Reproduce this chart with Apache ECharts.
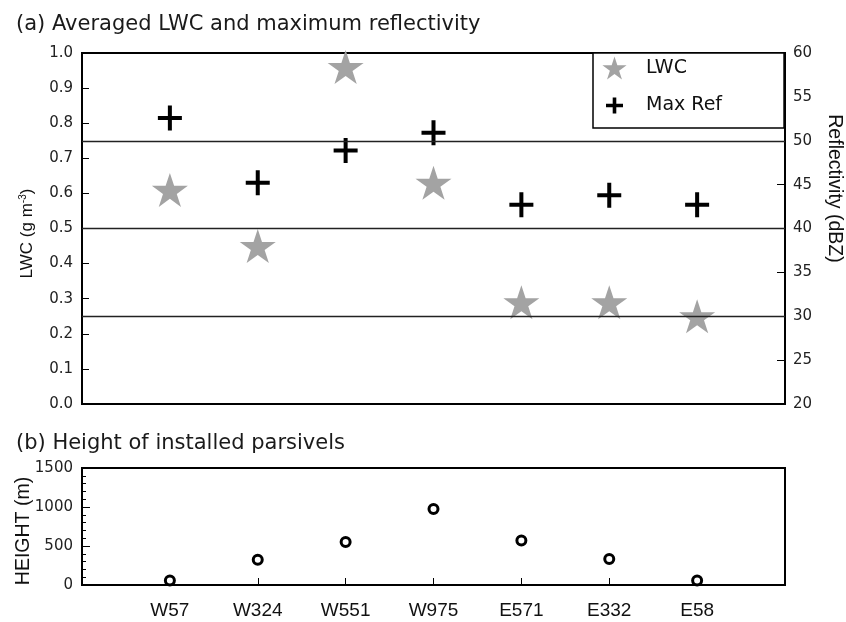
<!DOCTYPE html>
<html>
<head>
<meta charset="utf-8">
<script src="https://cdn.jsdelivr.net/npm/echarts@6/dist/echarts.min.js"></script>
<style>html,body{margin:0;padding:0;background:#fff;}#c{width:846px;height:622px;}</style>
</head>
<body>
<div id="c"></div>
<script>
const stations = ['W57', 'W324', 'W551', 'W975', 'E571', 'E332', 'E58'];
const lwc = [0.61, 0.45, 0.96, 0.63, 0.29, 0.29, 0.25];
const maxRef = [52.6, 45.2, 48.9, 50.9, 42.7, 43.8, 42.7];
const heights = [57, 324, 551, 975, 571, 332, 58];
const refLines = [30, 40, 50];

const STAR = 'path://M50,0 L61.2,34.5 L97.6,34.5 L68.2,55.9 L79.4,90.5 L50,69.1 L20.6,90.5 L31.8,55.9 L2.4,34.5 L38.8,34.5 Z';
const CROSS = 'path://M10,0 L14,0 L14,10.5 L24,10.5 L24,14.5 L14,14.5 L14,25 L10,25 L10,14.5 L0,14.5 L0,10.5 L10,10.5 Z';
const CROSS_LEG = 'path://M0,0 M25,23 M10.7,3.5 L14.3,3.5 L14.3,9.7 L21,9.7 L21,13.3 L14.3,13.3 L14.3,19.5 L10.7,19.5 L10.7,13.3 L4,13.3 L4,9.7 L10.7,9.7 Z';

const pts = arr => arr.map((v, i) => [i + 1, v]);
const tickFont = {fontFamily: 'DejaVu Sans', fontSize: 15, color: '#222'};
const axisLine = {show: true, onZero: false, lineStyle: {color: '#000', width: 2}};

const chart = echarts.init(document.getElementById('c'));
chart.setOption({
  animation: false,
  backgroundColor: '#fff',
  title: [
    {text: '(a) Averaged LWC and maximum reflectivity', left: 11, top: 9,
     textStyle: {fontFamily: 'DejaVu Sans', fontSize: 21, fontWeight: 'normal', color: '#1a1a1a'}},
    {text: '(b) Height of installed parsivels', left: 11, top: 428,
     textStyle: {fontFamily: 'DejaVu Sans', fontSize: 21, fontWeight: 'normal', color: '#1a1a1a'}}
  ],
  legend: {
    left: 593, top: 53, orient: 'vertical',
    selectedMode: false,
    itemWidth: 25, itemHeight: 23, itemGap: 14.5,
    padding: [3.5, 62, 11, 9],
    borderColor: '#000', borderWidth: 1.5, backgroundColor: '#fff',
    textStyle: {fontFamily: 'DejaVu Sans', fontSize: 19, color: '#111', padding: [0, 0, 0, 14]},
    data: [
      {name: 'LWC', icon: STAR, itemStyle: {color: '#a3a3a3'}},
      {name: 'Max Ref', icon: CROSS_LEG, itemStyle: {color: '#000'}}
    ]
  },
  grid: [
    {left: 82, right: 61, top: 53, height: 351, containLabel: false, outerBoundsMode: 'none',
     show: true, borderColor: '#000', borderWidth: 2, backgroundColor: 'transparent'},
    {left: 82, right: 61, top: 468, height: 117, containLabel: false, outerBoundsMode: 'none',
     show: true, borderColor: '#000', borderWidth: 2, backgroundColor: 'transparent'}
  ],
  xAxis: [
    {type: 'value', gridIndex: 0, min: 0, max: 8, interval: 1,
     axisLine: axisLine, axisTick: {show: false}, axisLabel: {show: false}, splitLine: {show: false}},
    {type: 'value', gridIndex: 1, min: 0, max: 8, interval: 1,
     axisLine: axisLine,
     axisTick: {show: true, inside: true, length: 7, lineStyle: {color: '#000', width: 1}},
     axisLabel: {margin: 16, fontFamily: 'Liberation Sans', fontSize: 19, color: '#111',
       formatter: v => stations[v - 1] || ''},
     splitLine: {show: false}}
  ],
  yAxis: [
    {type: 'value', gridIndex: 0, min: 0, max: 1, interval: 0.1, position: 'left',
     axisLine: axisLine,
     axisTick: {show: true, inside: true, length: 7, lineStyle: {color: '#000', width: 1}},
     axisLabel: Object.assign({margin: 9, formatter: v => v.toFixed(1)}, tickFont),
     splitLine: {show: false},
     name: '{n|LWC (g m}{s|-3}{n|)}', nameLocation: 'middle', nameRotate: 90, nameGap: 45,
     nameMoveOverlap: false,
     nameTextStyle: {padding: [0, 10, 0, 0], rich: {
       n: {fontFamily: 'Liberation Sans', fontSize: 17, color: '#111'},
       s: {fontFamily: 'Liberation Sans', fontSize: 10, color: '#111', padding: [0, 0, 9, 0]}
     }}},
    {type: 'value', gridIndex: 0, min: 20, max: 60, interval: 5, position: 'right',
     axisLine: axisLine,
     axisTick: {show: true, inside: true, length: 8, lineStyle: {color: '#000', width: 1}},
     axisLabel: Object.assign({margin: 8}, tickFont),
     splitLine: {show: false},
     name: 'Reflectivity (dBZ)', nameLocation: 'middle', nameRotate: -90, nameGap: 39,
     nameMoveOverlap: false,
     nameTextStyle: {fontFamily: 'Liberation Sans', fontSize: 19.5, color: '#111', padding: [0, 80, 0, 0]}},
    {type: 'value', gridIndex: 1, min: 0, max: 1500, interval: 500, position: 'left',
     axisLine: axisLine,
     axisTick: {show: true, inside: true, length: 8, lineStyle: {color: '#000', width: 1}},
     minorTick: {show: true, splitNumber: 5, length: 4, lineStyle: {color: '#000', width: 1}},
     axisLabel: Object.assign({margin: 9, formatter: v => String(v)}, tickFont),
     splitLine: {show: false},
     name: 'HEIGHT (m)', nameLocation: 'middle', nameRotate: 90, nameGap: 48,
     nameMoveOverlap: false,
     nameTextStyle: {fontFamily: 'Liberation Sans', fontSize: 19.5, color: '#111', padding: [0, 9, 0, 0]}}
  ],
  series: [
    {name: 'LWC', type: 'scatter', xAxisIndex: 0, yAxisIndex: 0,
     symbol: STAR, symbolSize: [36, 34], itemStyle: {color: '#a3a3a3', opacity: 1},
     data: pts(lwc), z: 3},
    {name: 'Max Ref', type: 'scatter', xAxisIndex: 0, yAxisIndex: 1,
     symbol: CROSS, symbolSize: [24, 25], itemStyle: {color: '#000', opacity: 1},
     data: pts(maxRef), z: 4,
     markLine: {silent: true, symbol: 'none', label: {show: false},
       lineStyle: {color: '#222', width: 1.3, type: 'solid'},
       data: refLines.map(v => ({yAxis: v}))}},
    {name: 'Height', type: 'scatter', xAxisIndex: 1, yAxisIndex: 2,
     symbol: 'circle', symbolSize: 9, itemStyle: {color: '#fff', borderColor: '#000', borderWidth: 3, opacity: 1},
     data: pts(heights), z: 4}
  ]
});
</script>
</body>
</html>
